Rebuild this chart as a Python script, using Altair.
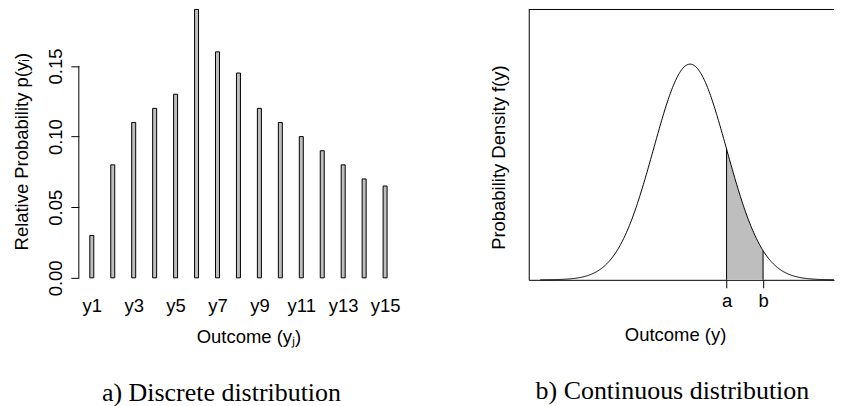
import altair as alt
import pandas as pd

# ---------------- data ----------------
outcomes = ["y1", "y2", "y3", "y4", "y5", "y6", "y7", "y8",
            "y9", "y10", "y11", "y12", "y13", "y14", "y15"]
positions = list(range(1, 16))
probs = [0.03, 0.08, 0.11, 0.12, 0.13, 0.19, 0.16, 0.145,
         0.12, 0.11, 0.10, 0.09, 0.08, 0.07, 0.065]
y_ticks_left = [0.00, 0.05, 0.10, 0.15]
x_label_positions = [1, 3, 5, 7, 9, 11, 13, 15]

# continuous panel: a normal density, with the interval [a, b]
mu = 0.0
sigma = 1.0
interval_values = [1.0, 2.0]
interval_labels = ["a", "b"]
curve_range = [-4.1, 3.95]
x_domain_right = [-4.418, 3.943]
y_domain_right = [0.0, 0.5]

FONT = "Liberation Sans"
SERIF = "Liberation Serif"
FS = 18.5

# ---------------- left panel ----------------
df_bars = pd.DataFrame({"pos": positions, "outcome": outcomes, "p": probs})
xs_left = alt.Scale(domain=[0.381, 16.571], nice=False, zero=False, padding=0)
ys_left = alt.Scale(domain=[0, 0.19], nice=False, zero=True, padding=0)

axis_x_left = alt.Axis(
    values=x_label_positions, labelExpr="'y' + datum.value",
    domain=False, ticks=False, tickSize=0, grid=False,
    labelPadding=34, labelBaseline="alphabetic", labelFlush=False,
    labelOverlap=False,
    title="Outcome (yⱼ)", titleBaseline="alphabetic", titleY=65)
axis_y_left = alt.Axis(
    values=y_ticks_left, format=".2f", domain=False, tickSize=8,
    grid=False, labelAngle=270, labelAlign="center",
    labelBaseline="alphabetic", labelPadding=9, labelFlush=False,
    labelOverlap=False,
    title="Relative Probability p(yᵢ)", titleAngle=270,
    titleAlign="center", titleBaseline="middle", titleX=-57, titleY=142)

bars = alt.Chart(df_bars).mark_bar(
    size=4, fill="#bebebe", stroke="black", strokeWidth=1
).encode(
    x=alt.X("pos:Q", scale=xs_left, axis=axis_x_left),
    y=alt.Y("p:Q", scale=ys_left, axis=axis_y_left),
)

yline = alt.Chart(pd.DataFrame({"p": [y_ticks_left[0]], "hi": [y_ticks_left[-1]]})).mark_rule(
    color="black", strokeWidth=1
).encode(
    x=alt.value(0),
    y=alt.Y("p:Q", scale=ys_left, axis=axis_y_left),
    y2="hi:Q",
)

left = alt.layer(bars, yline).properties(
    width=340, height=269,
    title=alt.TitleParams("a) Discrete distribution", orient="bottom",
                          font=SERIF, fontSize=26, fontWeight="normal",
                          anchor="middle", frame="group", baseline="alphabetic",
                          dx=-27, offset=55, color="black"),
)

# ---------------- right panel ----------------
xs_right = alt.Scale(domain=x_domain_right, nice=False, zero=False, padding=0)
ys_right = alt.Scale(domain=y_domain_right, nice=False, zero=True, padding=0)
dens = f"densityNormal(datum.x, {mu}, {sigma})"
label_expr = " : ".join(
    [f"datum.value == {v} ? '{l}'" for v, l in zip(interval_values[:-1], interval_labels[:-1])]
    + [f"'{interval_labels[-1]}'"]
)

axis_x_right = alt.Axis(
    values=interval_values, labelExpr=label_expr, tickSize=8, grid=False,
    labelPadding=19, labelBaseline="alphabetic", labelFlush=False,
    labelOverlap=False,
    title="Outcome (y)", titleBaseline="alphabetic", titleX=146.7, titleY=60.5)
axis_y_right = alt.Axis(
    ticks=False, labels=False, grid=False, domain=True,
    title="Probability Density f(y)", titleAngle=270, titleAlign="center",
    titleBaseline="middle", titleX=-30, titleY=148)

shade = alt.Chart(alt.sequence(interval_values[0], interval_values[1] + 0.005, 0.01, as_="x")).transform_calculate(
    f=dens
).mark_area(fill="#bebebe", stroke=None).encode(
    x=alt.X("x:Q", scale=xs_right, axis=axis_x_right),
    y=alt.Y("f:Q", scale=ys_right, axis=axis_y_right),
)

rules = alt.Chart(pd.DataFrame({"x": interval_values})).transform_calculate(
    f=dens
).mark_rule(color="black", strokeWidth=1).encode(
    x=alt.X("x:Q", scale=xs_right, axis=axis_x_right),
    y=alt.Y("f:Q", scale=ys_right, axis=axis_y_right),
    y2=alt.datum(0),
)

curve = alt.Chart(alt.sequence(curve_range[0], curve_range[1], 0.02, as_="x")).transform_calculate(
    f=dens
).mark_line(color="black", strokeWidth=1).encode(
    x=alt.X("x:Q", scale=xs_right, axis=axis_x_right),
    y=alt.Y("f:Q", scale=ys_right, axis=axis_y_right),
)

frame_top = alt.Chart(pd.DataFrame({"x": [x_domain_right[0]], "x2": [x_domain_right[1]],
                                    "f": [y_domain_right[1]]})).mark_rule(
    color="black", strokeWidth=1
).encode(
    x=alt.X("x:Q", scale=xs_right, axis=axis_x_right),
    x2="x2:Q",
    y=alt.Y("f:Q", scale=ys_right, axis=axis_y_right),
)

right = alt.layer(shade, rules, curve, frame_top).properties(
    width=306, height=271,
    title=alt.TitleParams("b) Continuous distribution", orient="bottom",
                          font=SERIF, fontSize=26, fontWeight="normal",
                          anchor="middle", frame="group", baseline="alphabetic",
                          dx=-9, offset=55, color="black"),
)

chart = alt.hconcat(left, right, spacing=111, bounds="flush").properties(
    padding={"left": 5, "top": 0, "right": 0, "bottom": 0},
    background="white",
).configure_view(stroke=None).configure_axis(
    labelFont=FONT, titleFont=FONT, labelFontSize=FS, titleFontSize=FS,
    titleFontWeight="normal", labelColor="black", titleColor="black",
    domainColor="black", tickColor="black", domainWidth=1, tickWidth=1,
)

chart.save("out.html", embed_options={"renderer": "svg", "actions": False})
